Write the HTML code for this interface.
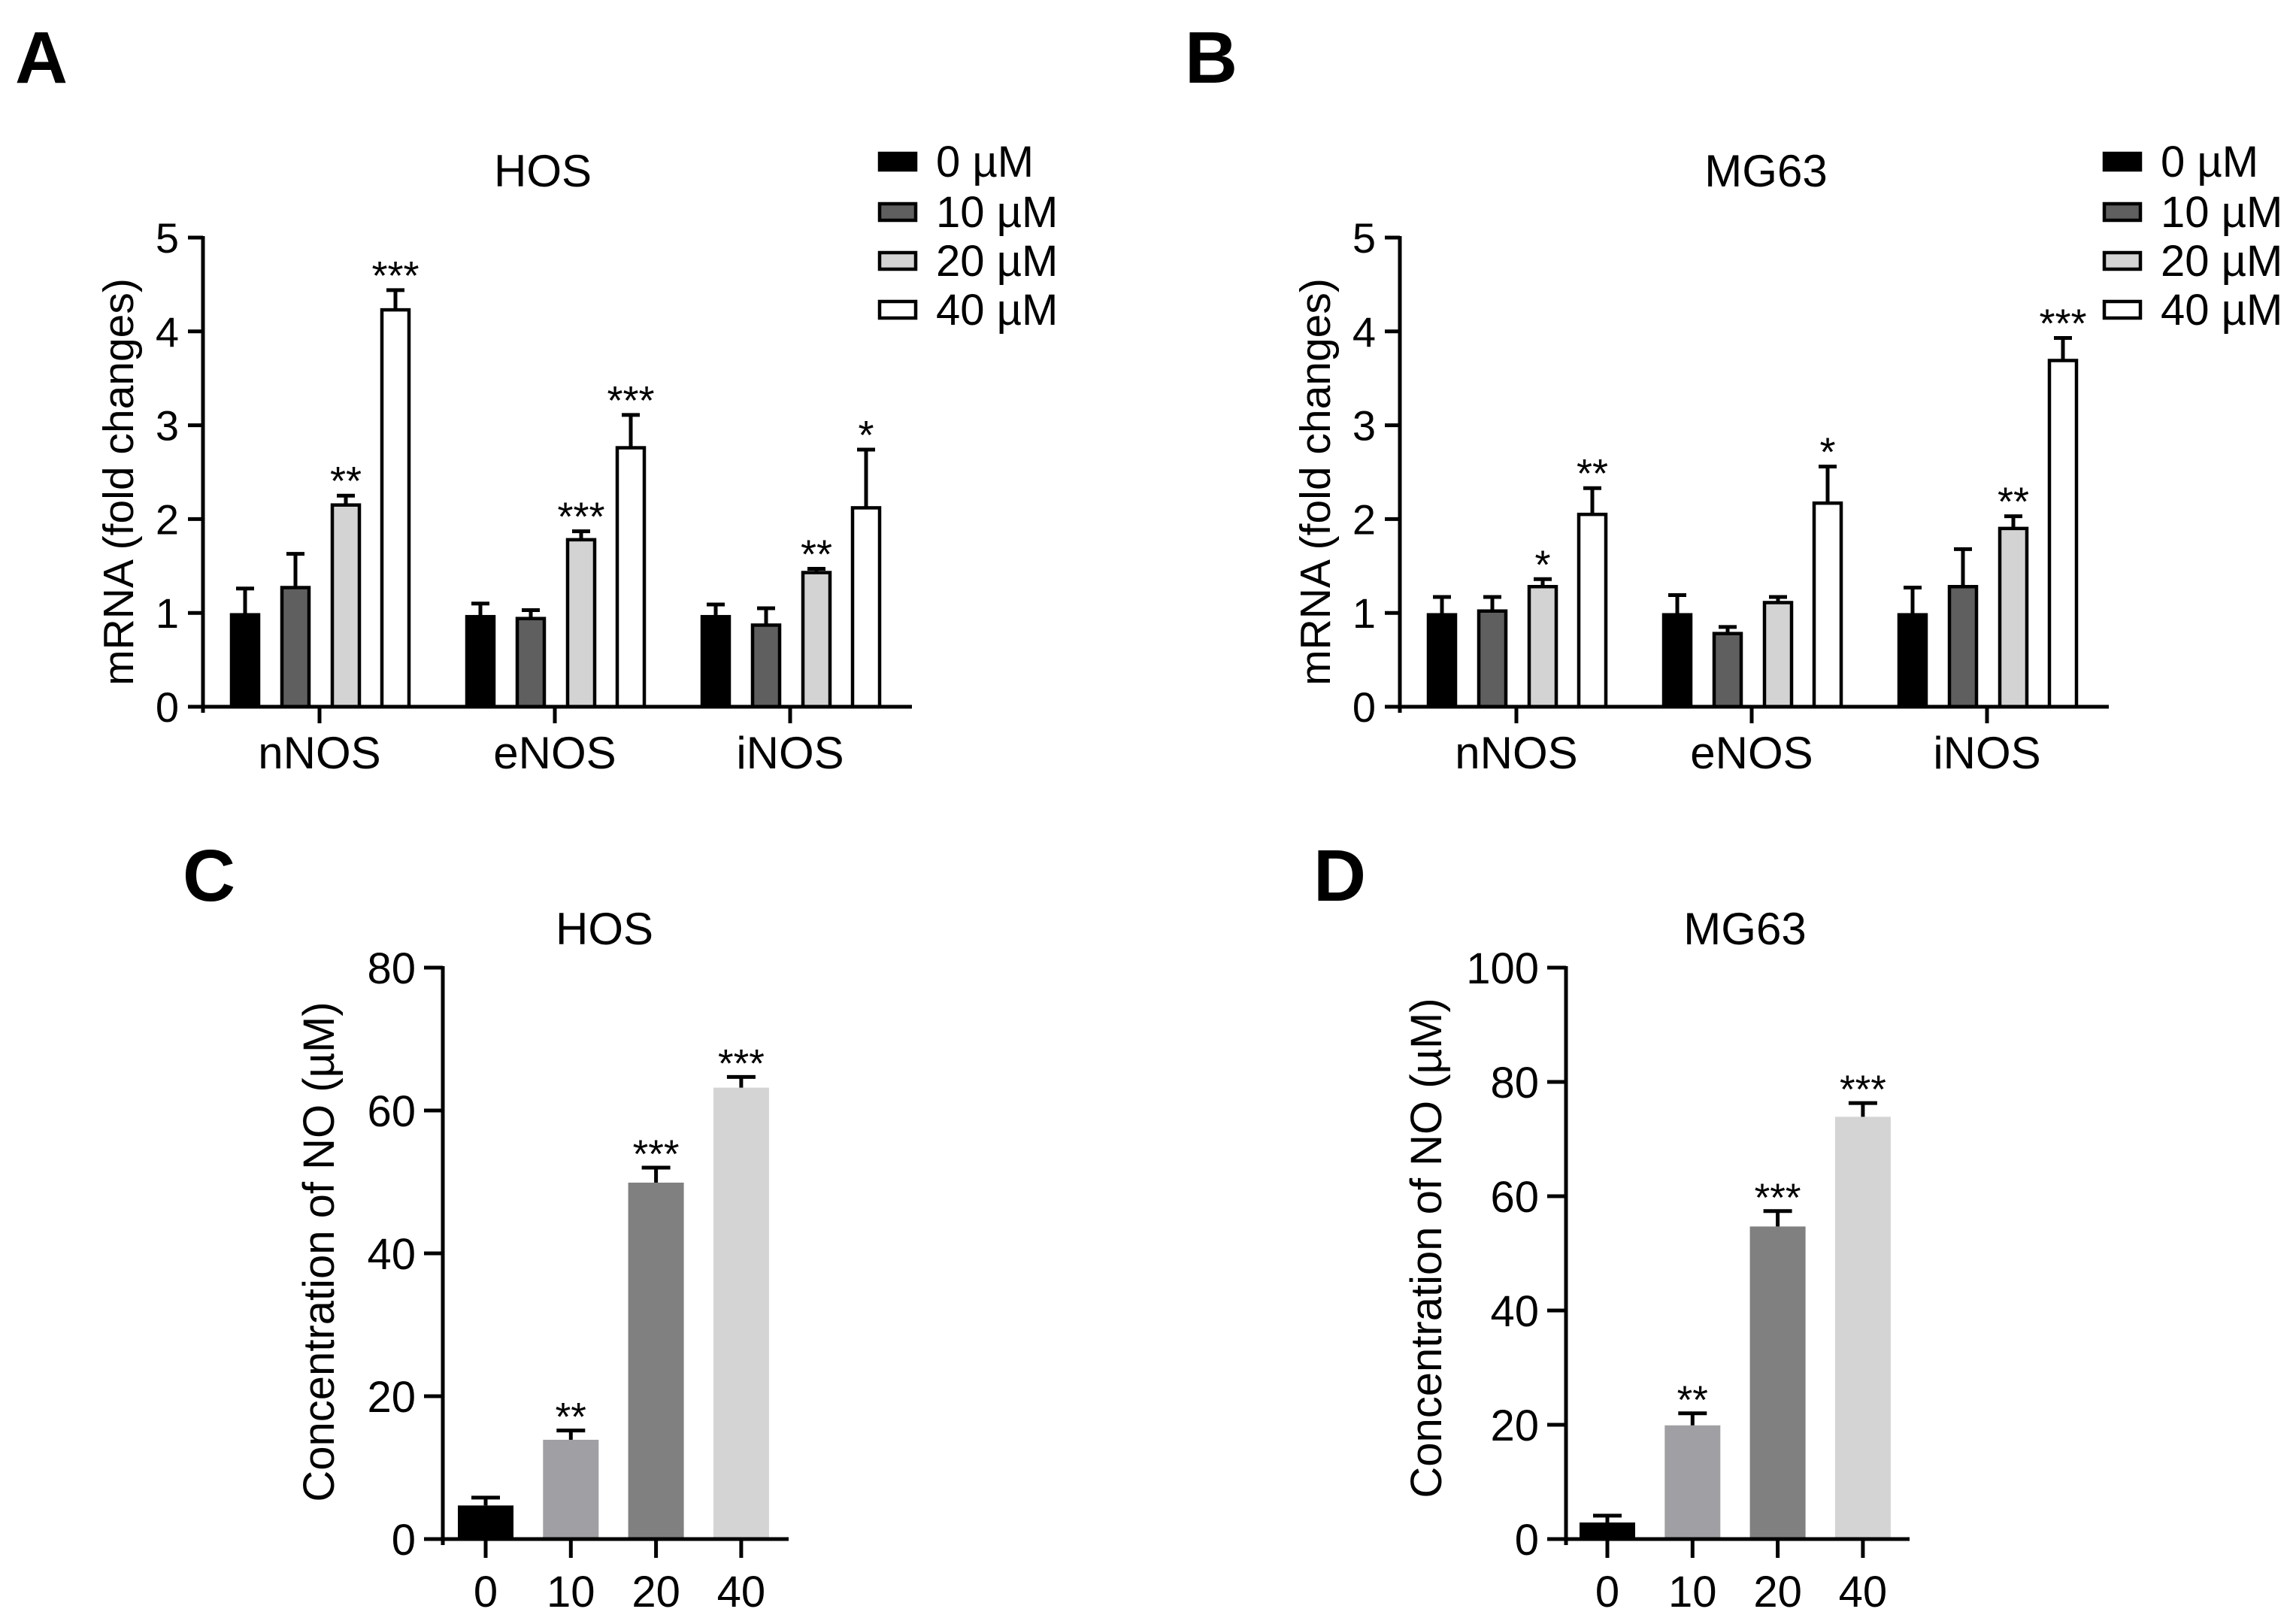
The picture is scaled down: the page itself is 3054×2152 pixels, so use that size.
<!DOCTYPE html>
<html><head><meta charset="utf-8">
<style>
html,body{margin:0;padding:0;background:#fff;}
svg{display:block;}
text{font-family:"Liberation Sans",Arial,sans-serif;fill:#000;}
</style></head>
<body>
<svg id="fig" width="3054" height="2152" viewBox="0 0 3054 2152" xmlns="http://www.w3.org/2000/svg"></svg>
<script>
// ---------- Data: panels A & B (mRNA fold changes) ----------
const genes = ["nNOS", "eNOS", "iNOS"];
const doses = ["0 µM", "10 µM", "20 µM", "40 µM"];
const mrnaTicks = [0, 1, 2, 3, 4, 5];
// HOS, rows = dose, columns = gene
const hosMean = [[0.98, 0.96, 0.96], [1.27, 0.94, 0.87], [2.15, 1.78, 1.43], [4.23, 2.76, 2.12]];
const hosErr  = [[1.26, 1.10, 1.09], [1.63, 1.03, 1.05], [2.25, 1.87, 1.47], [4.44, 3.11, 2.74]];
const hosStars = [["", "", ""], ["", "", ""], ["**", "***", "**"], ["***", "***", "*"]];
const mgMean = [[0.98, 0.98, 0.98], [1.02, 0.78, 1.28], [1.28, 1.11, 1.90], [2.05, 2.17, 3.69]];
const mgErr  = [[1.17, 1.19, 1.27], [1.17, 0.85, 1.68], [1.36, 1.17, 2.03], [2.33, 2.56, 3.93]];
const mgStars = [["", "", ""], ["", "", ""], ["*", "", "**"], ["**", "*", "***"]];
// ---------- Data: panels C & D (NO concentration) ----------
const noCats = ["0", "10", "20", "40"];
const hosNO = [4.7, 13.9, 49.9, 63.2];
const hosNOErr = [5.8, 15.2, 52.0, 64.7];
const hosNOStars = ["", "**", "***", "***"];
const hosNOTicks = [0, 20, 40, 60, 80];
const mgNO = [2.9, 19.9, 54.7, 73.9];
const mgNOErr = [4.1, 22.0, 57.4, 76.3];
const mgNOStars = ["", "**", "***", "***"];
const mgNOTicks = [0, 20, 40, 60, 80, 100];

const NS = "http://www.w3.org/2000/svg";
const svg = document.getElementById("fig");
function mk(tag, attrs, parent) {
  const e = document.createElementNS(NS, tag);
  for (const k in attrs) e.setAttribute(k, attrs[k]);
  (parent || svg).appendChild(e);
  return e;
}
function txt(str, x, y, size, anchor, parent, extra) {
  const t = mk("text", Object.assign({x: x, y: y, "font-size": size, "text-anchor": anchor || "start"}, extra || {}), parent);
  t.textContent = str;
  return t;
}

const mrnaFill = ["#000000", "#5f5f5f", "#d3d3d3", "#ffffff"];
const noFill = ["#000000", "#a0a0a4", "#808080", "#d4d4d4"];

function groupedPanel(o) {
  const g = mk("g", {});
  
  
  const y0 = 940, yTop = 316, vmax = 5;
  const ys = v => y0 - (v / vmax) * (y0 - yTop);
  const ax = o.axisX;
  const xEnd = ax + 943;
  const groupX = i => ax + 155 + i * 313;
  const offs = [-99, -32, 35, 101];
  // letter
  const L = txt(o.letter, o.letterX, 110, 97, "start", g, {"font-weight": "bold"});
  
  
  const T = txt(o.title, o.titleX, 248, 60, "middle", g);
  
  
  // bars
  for (let d = 0; d < 4; d++) {
    for (let gi = 0; gi < 3; gi++) {
      const cx = groupX(gi) + offs[d];
      const v = o.mean[d][gi], e = o.err[d][gi];
      const top = ys(v), et = ys(e);
      const el = mk("line", {x1: cx, y1: top, x2: cx, y2: et, stroke: "#000", "stroke-width": 5}, g);
      
      
      const cap = mk("line", {x1: cx - 12, y1: et, x2: cx + 12, y2: et, stroke: "#000", "stroke-width": 5}, g);
      
      
      const r = mk("rect", {x: cx - 18, y: top, width: 36, height: y0 - top, fill: mrnaFill[d], stroke: "#000", "stroke-width": 4.5}, g);
      
      
      if (o.stars[d][gi]) {
        const s = txt(o.stars[d][gi], cx, et - 1, 54, "middle", g);
        
        
      }
    }
  }
  // axes
  const yAxis = mk("line", {x1: ax, y1: yTop - 2, x2: ax, y2: y0 + 8, stroke: "#000", "stroke-width": 5}, g);
  
  
  const xAxis = mk("line", {x1: ax - 20, y1: y0, x2: xEnd, y2: y0, stroke: "#000", "stroke-width": 5}, g);
  
  
  mrnaTicks.forEach(t => {
    const y = ys(t);
    const tk = mk("line", {x1: ax - 20, y1: y, x2: ax, y2: y, stroke: "#000", "stroke-width": 5}, g);
    
    
    const tl = txt(String(t), ax - 32, y + 20, 56, "end", g);
    
    
  });
  genes.forEach((gn, i) => {
    const x = groupX(i);
    const tk = mk("line", {x1: x, y1: y0, x2: x, y2: y0 + 22, stroke: "#000", "stroke-width": 5}, g);
    
    
    const tl = txt(gn, x, 1022, 60, "middle", g);
    
    
  });
  const yt = txt("mRNA (fold changes)", 0, 0, 57, "middle", g, {transform: "translate(" + (ax - 93) + ",641) rotate(-90)"});
  
  
  // legend
  const rowsY = [215, 282, 347, 412];
  doses.forEach((dname, d) => {
    const lg = mk("g", {}, g);
    
    
    mk("rect", {x: o.legX + 2, y: rowsY[d] - 11, width: 48, height: 22, fill: mrnaFill[d], stroke: "#000", "stroke-width": 4.5}, lg);
    txt(dname, o.legX + 77, rowsY[d] + 20, 58, "start", lg);
  });
}

function simplePanel(o) {
  const g = mk("g", {});
  
  
  const y0 = 2047, yTop = 1287;
  const vmax = o.ticks[o.ticks.length - 1];
  const ys = v => y0 - (v / vmax) * (y0 - yTop);
  const ax = o.axisX;
  const bx = i => o.firstX + i * 113.3;
  const L = txt(o.letter, o.letterX, 1198, 97, "start", g, {"font-weight": "bold"});
  
  
  const T = txt(o.title, o.titleX, 1256, 60, "middle", g);
  
  
  o.vals.forEach((v, i) => {
    const cx = bx(i), top = ys(v), et = ys(o.errs[i]);
    const r = mk("rect", {x: cx - 37, y: top, width: 74, height: y0 - top, fill: noFill[i]}, g);
    
    
    const el = mk("line", {x1: cx, y1: top, x2: cx, y2: et, stroke: "#000", "stroke-width": 5}, g);
    
    
    const cap = mk("line", {x1: cx - 19, y1: et, x2: cx + 19, y2: et, stroke: "#000", "stroke-width": 5}, g);
    
    
    if (o.stars[i]) {
      const s = txt(o.stars[i], cx, et, 53, "middle", g);
      
      
    }
    const tk = mk("line", {x1: cx, y1: y0, x2: cx, y2: y0 + 25, stroke: "#000", "stroke-width": 5}, g);
    
    
    const tl = txt(noCats[i], cx, 2137, 58, "middle", g);
    
    
  });
  const yAxis = mk("line", {x1: ax, y1: yTop - 2, x2: ax, y2: y0 + 8, stroke: "#000", "stroke-width": 5}, g);
  
  
  const xAxis = mk("line", {x1: ax - 25, y1: y0, x2: o.xEnd, y2: y0, stroke: "#000", "stroke-width": 5}, g);
  
  
  o.ticks.forEach(t => {
    const y = ys(t);
    const tk = mk("line", {x1: ax - 25, y1: y, x2: ax, y2: y, stroke: "#000", "stroke-width": 5}, g);
    
    
    const tl = txt(String(t), ax - 36, y + 21, 58, "end", g);
    
    
  });
  const yt = txt("Concentration of NO (µM)", 0, 0, 58, "middle", g, {transform: "translate(" + o.yTitleX + "," + o.yTitleY + ") rotate(-90)"});
  
  
}

groupedPanel({name: "panel-a-hos-mrna", letter: "A", letterX: 20, title: "HOS", titleX: 722, axisX: 270,
  mean: hosMean, err: hosErr, stars: hosStars, legX: 1168});
groupedPanel({name: "panel-b-mg63-mrna", letter: "B", letterX: 1576, title: "MG63", titleX: 2349, axisX: 1862,
  mean: mgMean, err: mgErr, stars: mgStars, legX: 2797});
simplePanel({name: "panel-c-hos-no", letter: "C", letterX: 243, title: "HOS", titleX: 804, axisX: 589, firstX: 646,
  xEnd: 1049, vals: hosNO, errs: hosNOErr, stars: hosNOStars, ticks: hosNOTicks, yTitleX: 444, yTitleY: 1665});
simplePanel({name: "panel-d-mg63-no", letter: "D", letterX: 1747, title: "MG63", titleX: 2321, axisX: 2083, firstX: 2138,
  xEnd: 2540, vals: mgNO, errs: mgNOErr, stars: mgNOStars, ticks: mgNOTicks, yTitleX: 1917, yTitleY: 1660});
</script>
</body></html>
